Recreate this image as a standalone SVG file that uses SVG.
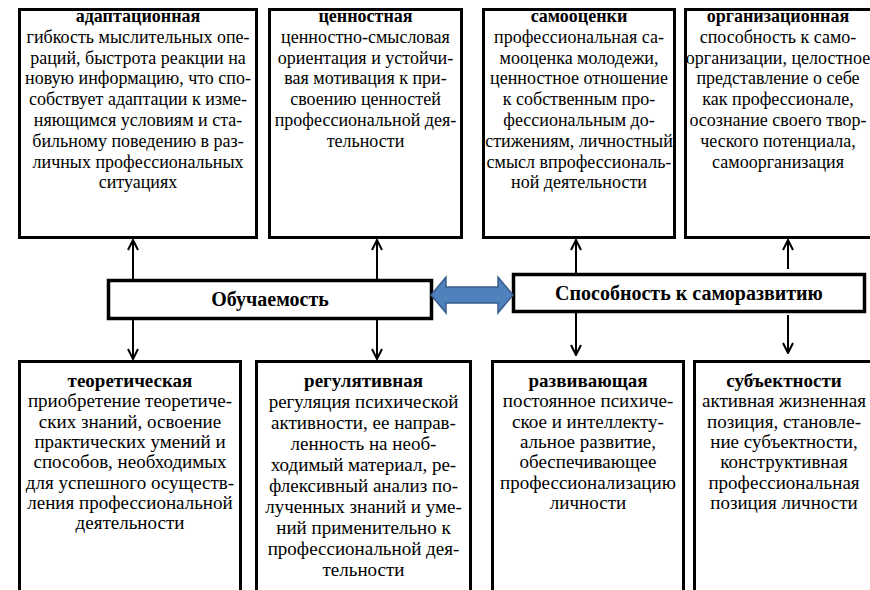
<svg xmlns="http://www.w3.org/2000/svg" width="870" height="590" viewBox="0 0 870 590">
<defs>
<style>
.box{fill:#fff;stroke:#000;stroke-width:3}
.mid{fill:#fff;stroke:#000;stroke-width:3.5}
.txt text{fill:#000;text-anchor:middle;font-family:"Liberation Serif","Times New Roman",Times,"DejaVu Serif","Noto Serif",Tinos,FreeSerif,serif}
.t{font-size:18px}
.b{font-size:19px}
.h{font-weight:bold}
.m{font-size:20px;font-weight:bold}
.ln{stroke:#000;stroke-width:2;fill:none}
</style>
<marker id="ah" viewBox="0 0 12 12" refX="11" refY="6" markerWidth="12" markerHeight="12" markerUnits="userSpaceOnUse" orient="auto">
<path d="M1,1 L11,6 L1,11" fill="none" stroke="#000" stroke-width="2"/>
</marker>
</defs>
<rect width="870" height="590" fill="#fff"/>
<g class="txt">
<g id="top1">
<rect class="box" x="19.5" y="9.5" width="237" height="228"/>
<text class="t" x="138" y="22"><tspan class="h">адаптационная</tspan><tspan x="138" dy="20.8">гибкость мыслительных опе-</tspan><tspan x="138" dy="20.8">раций, быстрота реакции на</tspan><tspan x="138" dy="20.8">новую информацию, что спо-</tspan><tspan x="138" dy="20.8">собствует адаптации к изме-</tspan><tspan x="138" dy="20.8">няющимся условиям и ста-</tspan><tspan x="138" dy="20.8">бильному поведению в раз-</tspan><tspan x="138" dy="20.8">личных профессиональных</tspan><tspan x="138" dy="20.8">ситуациях</tspan></text>
</g>
<g id="top2">
<rect class="box" x="269.5" y="9.5" width="192" height="228"/>
<text class="t" x="365.5" y="22"><tspan class="h">ценностная</tspan><tspan x="365.5" dy="20.8">ценностно-смысловая</tspan><tspan x="365.5" dy="20.8">ориентация и устойчи-</tspan><tspan x="365.5" dy="20.8">вая мотивация к при-</tspan><tspan x="365.5" dy="20.8">своению ценностей</tspan><tspan x="365.5" dy="20.8">профессиональной дея-</tspan><tspan x="365.5" dy="20.8">тельности</tspan></text>
</g>
<g id="top3">
<rect class="box" x="483.5" y="9.5" width="191" height="228"/>
<text class="t" x="579" y="22"><tspan class="h">самооценки</tspan><tspan x="579" dy="20.8">профессиональная са-</tspan><tspan x="579" dy="20.8">мооценка молодежи,</tspan><tspan x="579" dy="20.8">ценностное отношение</tspan><tspan x="579" dy="20.8">к собственным про-</tspan><tspan x="579" dy="20.8">фессиональным до-</tspan><tspan x="579" dy="20.8">стижениям, личностный</tspan><tspan x="579" dy="20.8">смысл впрофессиональ-</tspan><tspan x="579" dy="20.8">ной деятельности</tspan></text>
</g>
<g id="top4">
<rect class="box" x="685.5" y="9.5" width="200" height="228"/>
<text class="t" x="778" y="22"><tspan class="h">организационная</tspan><tspan x="778" dy="20.8">способность к само-</tspan><tspan x="778" dy="20.8">организации, целостное</tspan><tspan x="778" dy="20.8">представление о себе</tspan><tspan x="778" dy="20.8">как профессионале,</tspan><tspan x="778" dy="20.8">осознание своего твор-</tspan><tspan x="778" dy="20.8">ческого  потенциала,</tspan><tspan x="778" dy="20.8">самоорганизация</tspan></text>
</g>

<g id="learn">
<rect class="mid" x="108.5" y="280.5" width="323" height="38"/>
<text class="m" x="270" y="306">Обучаемость</text>
</g>
<g id="selfdev">
<rect class="mid" x="513.5" y="274.5" width="351" height="37"/>
<text class="m" x="689" y="300">Способность к саморазвитию</text>
</g>

<g id="bot1">
<rect class="box" x="19.5" y="361.5" width="221" height="240"/>
<text class="b" x="130" y="387"><tspan class="h">теоретическая</tspan><tspan x="130" dy="20.3">приобретение теоретиче-</tspan><tspan x="130" dy="20.3">ских знаний, освоение</tspan><tspan x="130" dy="20.3">практических умений и</tspan><tspan x="130" dy="20.3">способов, необходимых</tspan><tspan x="130" dy="20.3">для успешного осуществ-</tspan><tspan x="130" dy="20.3">ления профессиональной</tspan><tspan x="130" dy="20.3">деятельности</tspan></text>
</g>
<g id="bot2">
<rect class="box" x="256.5" y="361.5" width="214" height="240"/>
<text class="b" x="363.5" y="387"><tspan class="h">регулятивная</tspan><tspan x="363.5" dy="21">регуляция психической</tspan><tspan x="363.5" dy="21">активности, ее направ-</tspan><tspan x="363.5" dy="21">ленность на необ-</tspan><tspan x="363.5" dy="21">ходимый материал, ре-</tspan><tspan x="363.5" dy="21">флексивный анализ по-</tspan><tspan x="363.5" dy="21">лученных знаний и уме-</tspan><tspan x="363.5" dy="21">ний применительно к</tspan><tspan x="363.5" dy="21">профессиональной дея-</tspan><tspan x="363.5" dy="21">тельности</tspan></text>
</g>
<g id="bot3">
<rect class="box" x="492.5" y="361.5" width="191" height="240"/>
<text class="b" x="588" y="387"><tspan class="h">развивающая</tspan><tspan x="588" dy="20.3">постоянное психиче-</tspan><tspan x="588" dy="20.3">ское и интеллекту-</tspan><tspan x="588" dy="20.3">альное развитие,</tspan><tspan x="588" dy="20.3">обеспечивающее</tspan><tspan x="588" dy="20.3">профессионализацию</tspan><tspan x="588" dy="20.3">личности</tspan></text>
</g>
<g id="bot4">
<rect class="box" x="694.5" y="361.5" width="200" height="240"/>
<text class="b" x="784" y="387"><tspan class="h">субъектности</tspan><tspan x="784" dy="20.3">активная жизненная</tspan><tspan x="784" dy="20.3">позиция, становле-</tspan><tspan x="784" dy="20.3">ние субъектности,</tspan><tspan x="784" dy="20.3">конструктивная</tspan><tspan x="784" dy="20.3">профессиональная</tspan><tspan x="784" dy="20.3">позиция личности</tspan></text>
</g>
</g>
<g id="connectors">
<line class="ln" x1="133" y1="279" x2="133" y2="240" marker-end="url(#ah)"/>
<line class="ln" x1="133" y1="320" x2="133" y2="359" marker-end="url(#ah)"/>
<line class="ln" x1="377" y1="279" x2="377" y2="240" marker-end="url(#ah)"/>
<line class="ln" x1="377" y1="320" x2="377" y2="359" marker-end="url(#ah)"/>
<line class="ln" x1="576" y1="273" x2="576" y2="240" marker-end="url(#ah)"/>
<line class="ln" x1="576" y1="313" x2="576" y2="355" marker-end="url(#ah)"/>
<line class="ln" x1="788" y1="269" x2="788" y2="240" marker-end="url(#ah)"/>
<line class="ln" x1="788" y1="315" x2="788" y2="353" marker-end="url(#ah)"/>
<polygon points="431,295 446,277 446,287 498,287 498,277 513,295 498,313 498,303 446,303 446,313" fill="#4F81BD" stroke="#385D8A" stroke-width="1.5"/>
</g>
</svg>
